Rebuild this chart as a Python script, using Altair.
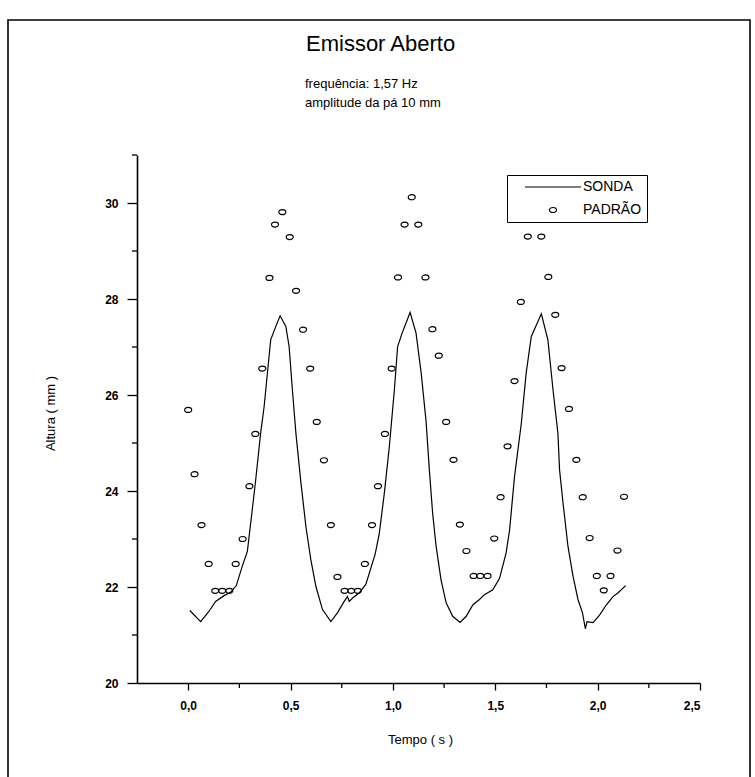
import altair as alt
import pandas as pd

# ---------------- data ----------------
t_sonda = [0.008, 0.061, 0.101, 0.134, 0.175, 0.207, 0.235, 0.264, 0.289, 0.313,
           0.330, 0.354, 0.371, 0.403, 0.428, 0.449, 0.477, 0.493, 0.509, 0.526,
           0.550, 0.575, 0.599, 0.624, 0.656, 0.697, 0.729, 0.762, 0.778, 0.787,
           0.803, 0.836, 0.868, 0.913, 0.933, 0.958, 0.982, 1.007, 1.023, 1.045,
           1.084, 1.113, 1.138, 1.162, 1.178, 1.194, 1.211, 1.235, 1.260, 1.292,
           1.328, 1.358, 1.391, 1.423, 1.447, 1.488, 1.521, 1.553, 1.570, 1.594,
           1.627, 1.651, 1.676, 1.725, 1.757, 1.782, 1.806, 1.814, 1.831, 1.855,
           1.880, 1.904, 1.926, 1.940, 1.948, 1.978, 2.010, 2.043, 2.075, 2.100,
           2.137]
h_sonda = [21.51, 21.28, 21.49, 21.70, 21.82, 21.89, 22.03, 22.43, 22.74, 23.61,
           24.24, 25.21, 25.76, 27.15, 27.43, 27.65, 27.43, 27.01, 26.11, 25.21,
           24.20, 23.26, 22.57, 22.01, 21.53, 21.28, 21.46, 21.70, 21.80, 21.70,
           21.77, 21.88, 22.06, 22.68, 23.10, 23.95, 24.90, 26.10, 27.01, 27.29,
           27.72, 27.29, 26.46, 25.45, 24.44, 23.54, 22.85, 22.15, 21.67, 21.39,
           21.26, 21.39, 21.63, 21.74, 21.84, 21.94, 22.18, 22.71, 23.19, 24.30,
           25.40, 26.46, 27.22, 27.69, 27.15, 26.11, 25.20, 24.44, 23.75, 22.85,
           22.22, 21.74, 21.46, 21.13, 21.28, 21.26, 21.42, 21.63, 21.80, 21.88,
           22.03]

t_padrao = [0.000, 0.031, 0.065, 0.100, 0.132, 0.166, 0.201, 0.232, 0.266, 0.299,
            0.328, 0.362, 0.397, 0.424, 0.460, 0.496, 0.527, 0.561, 0.596, 0.628,
            0.663, 0.697, 0.729, 0.764, 0.796, 0.829, 0.863, 0.898, 0.927, 0.961,
            0.994, 1.025, 1.057, 1.092, 1.124, 1.159, 1.193, 1.224, 1.260, 1.296,
            1.327, 1.359, 1.394, 1.426, 1.462, 1.495, 1.526, 1.560, 1.594, 1.625,
            1.659, 1.725, 1.759, 1.793, 1.824, 1.860, 1.896, 1.927, 1.961, 1.996,
            2.030, 2.063, 2.097, 2.129]
h_padrao = [25.69, 24.35, 23.29, 22.48, 21.92, 21.92, 21.92, 22.48, 23.00, 24.10,
            25.19, 26.55, 28.44, 29.55, 29.81, 29.29, 28.17, 27.36, 26.55, 25.44,
            24.64, 23.29, 22.21, 21.92, 21.92, 21.92, 22.48, 23.29, 24.10, 25.19,
            26.55, 28.45, 29.55, 30.12, 29.55, 28.45, 27.37, 26.82, 25.44, 24.65,
            23.30, 22.75, 22.23, 22.23, 22.23, 23.01, 23.87, 24.93, 26.29, 27.94,
            29.30, 29.30, 28.46, 27.67, 26.56, 25.71, 24.65, 23.87, 23.02, 22.23,
            21.93, 22.23, 22.76, 23.88]

series_names = ["SONDA", "PADRÃO"]
x_major = [0.0, 0.5, 1.0, 1.5, 2.0, 2.5]
x_minor = [0.25, 0.75, 1.25, 1.75, 2.25]
y_major = [20, 22, 24, 26, 28, 30]
y_minor = [21, 23, 25, 27, 29, 31]
title_text = "Emissor Aberto"
subtitle_lines = ["frequência: 1,57 Hz", "amplitude da pá 10 mm"]
x_title = "Tempo ( s )"
y_title = "Altura ( mm )"

# ---------------- layout / style ----------------
FONT = "Liberation Sans"
X0, Y0 = 137, 155          # plot origin in the page
W, H = 563, 528            # plot area
ELLIPSE = "M-1,0A1,0.72,0,1,1,1,0A1,0.72,0,1,1,-1,0Z"
STROKE = "M-8,0L8,0"       # 56 px long at size 49

xs = alt.Scale(domain=[-0.25, 2.5], nice=False, zero=False)
ys = alt.Scale(domain=[20, 31], nice=False, zero=False)

sonda = pd.DataFrame({"t": t_sonda, "h": h_sonda, "serie": "SONDA"})
padrao = pd.DataFrame({"t": t_padrao, "h": h_padrao, "serie": "PADRÃO"})

x_axis = alt.Axis(
    values=x_major, title=x_title,
    labelExpr="replace(format(datum.value, '.1f'), '.', ',')",
    tickSize=7, labelPadding=10, grid=False,
    titleX=283, titleY=56, titleBaseline="middle", titleAlign="center",
)
y_axis = alt.Axis(
    values=y_major, title=y_title, format="d",
    tickSize=10, labelPadding=9, grid=False,
    titleX=-87, titleY=258, titleAngle=-90,
    titleBaseline="middle", titleAlign="center",
)

legend = alt.Legend(
    title=None, orient="none", legendX=370, legendY=20,
    strokeColor="black", padding=5,
    labelFont=FONT, labelFontSize=14, labelColor="black",
    labelOffset=23, rowPadding=9, symbolOffset=34, symbolSize=49,
    symbolStrokeColor="black", symbolStrokeWidth=1.2,
)

line = alt.Chart(sonda).mark_line(color="black", strokeWidth=1.2).encode(
    x=alt.X("t:Q", scale=xs, axis=x_axis),
    y=alt.Y("h:Q", scale=ys, axis=y_axis),
)

points = alt.Chart(padrao).mark_point(
    filled=False, color="black", strokeWidth=1.2, opacity=1, size=49
).encode(
    x=alt.X("t:Q", scale=xs, title=x_title),
    y=alt.Y("h:Q", scale=ys, title=y_title),
    shape=alt.Shape("serie:N", scale=alt.Scale(domain=series_names, range=[STROKE, ELLIPSE]), legend=legend),
)

yminor = alt.Chart(pd.DataFrame({"v": y_minor})).mark_rule(color="black", strokeWidth=1.3).encode(
    y=alt.Y("v:Q", scale=ys, title=y_title),
    x=alt.value(-5), x2=alt.value(0),
)
xminor = alt.Chart(pd.DataFrame({"v": x_minor})).mark_rule(color="black", strokeWidth=1.3).encode(
    x=alt.X("v:Q", scale=xs, title=x_title),
    y=alt.value(H), y2=alt.value(H + 5),
)

frame = alt.Chart(alt.Data(values=[{"f": 1}])).mark_rect(
    fill="transparent", stroke="black", strokeWidth=1.6
).encode(
    x=alt.value(8 - X0), x2=alt.value(750 - X0),
    y=alt.value(20 - Y0), y2=alt.value(800 - Y0),
)

head = alt.Chart(pd.DataFrame({"txt": [title_text]})).mark_text(
    font=FONT, fontSize=22, align="left", baseline="alphabetic", color="black"
).encode(text="txt:N", x=alt.value(306 - X0), y=alt.value(51 - Y0))

sub1 = alt.Chart(pd.DataFrame({"txt": [subtitle_lines[0]]})).mark_text(
    font=FONT, fontSize=13, align="left", baseline="alphabetic", color="black"
).encode(text="txt:N", x=alt.value(305 - X0), y=alt.value(88 - Y0))

sub2 = alt.Chart(pd.DataFrame({"txt": [subtitle_lines[1]]})).mark_text(
    font=FONT, fontSize=13, align="left", baseline="alphabetic", color="black"
).encode(text="txt:N", x=alt.value(305 - X0), y=alt.value(107 - Y0))

chart = alt.layer(line, points, yminor, xminor, frame, head, sub1, sub2).properties(
    width=W, height=H, background="white",
    autosize=alt.AutoSizeParams(type="none"),
    padding={"left": X0, "top": Y0, "right": 755 - X0 - W, "bottom": 777 - Y0 - H},
).configure_view(stroke=None).configure_axis(
    domainColor="black", domainWidth=1.6, tickColor="black", tickWidth=1.3,
    labelFont=FONT, labelFontSize=12, labelFontWeight="bold", labelColor="black",
    titleFont=FONT, titleFontSize=13, titleFontWeight="normal", titleColor="black",
)

chart.save("out.html", embed_options={"renderer": "svg", "actions": False})
